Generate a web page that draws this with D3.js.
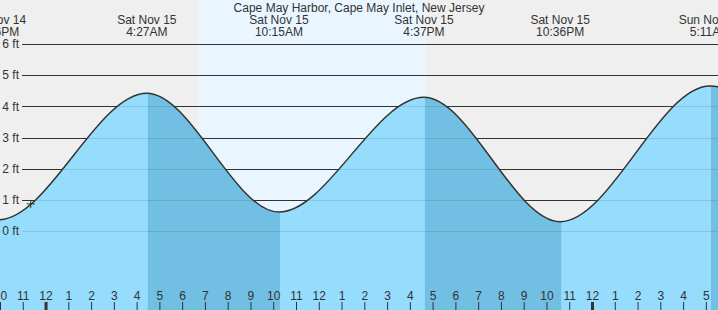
<!DOCTYPE html>
<html>
<head>
<meta charset="utf-8">
<script src="https://cdn.jsdelivr.net/npm/d3@7"></script>
<style>
  body { margin: 0; background: #fff; }
  svg { display: block; font-family: "Liberation Sans", Arial, sans-serif; }
</style>
</head>
<body>
<div id="wrapper"></div>
<script>
// tide extremes (high / low), incl. one off-screen on each side
const tideTimes = ["2025-11-14T15:40", "2025-11-14T21:56", "2025-11-15T04:27", "2025-11-15T10:15",
                   "2025-11-15T16:37", "2025-11-15T22:36", "2025-11-16T05:11", "2025-11-16T11:25"]
const tideHeights = [4.2, 0.36, 4.42, 0.61, 4.29, 0.30, 4.65, 0.75]
const tideDays = ["Fri Nov 14", "Fri Nov 14", "Sat Nov 15", "Sat Nov 15",
                  "Sat Nov 15", "Sat Nov 15", "Sun Nov 16", "Sun Nov 16"]
const tideLabels = ["3:40PM", "9:56PM", "4:27AM", "10:15AM", "4:37PM", "10:36PM", "5:11AM", "11:25AM"]
const daylight = ["2025-11-15T06:42", "2025-11-15T16:42"]
const nowMark = { time: "2025-11-14T23:21", height: 0.87 }
const ftTicks = [0, 1, 2, 3, 4, 5, 6]
const title = "Cape May Harbor, Cape May Inlet, New Jersey"

const parse = d3.timeParse("%Y-%m-%dT%H:%M")
const tides = tideTimes.map((t, i) => ({
  time: parse(t), height: tideHeights[i], day: tideDays[i], label: tideLabels[i]
}))

const dimensions = { width: 718, height: 310 }

const wrapper = d3.select("#wrapper")
  .append("svg")
  .attr("width", dimensions.width)
  .attr("height", dimensions.height)

const xScaler = d3.scaleTime()
  .domain([parse("2025-11-14T22:00"), parse("2025-11-16T05:32")])
  .range([0, dimensions.width])

const yScaler = d3.scaleLinear()
  .domain([0, 6])
  .range([231, 44])

// background + daylight
wrapper.append("rect")
  .attr("width", dimensions.width).attr("height", dimensions.height)
  .attr("fill", "#efefef")
wrapper.append("rect")
  .attr("x", xScaler(parse(daylight[0])))
  .attr("width", xScaler(parse(daylight[1])) - xScaler(parse(daylight[0])))
  .attr("height", dimensions.height)
  .attr("fill", "#eaf6ff")

// grid lines (dark, above water)
const gridLeft = 22
wrapper.append("g").selectAll("line")
  .data(ftTicks).join("line")
  .attr("x1", gridLeft).attr("x2", dimensions.width)
  .attr("y1", d => Math.round(yScaler(d)) + 0.5)
  .attr("y2", d => Math.round(yScaler(d)) + 0.5)
  .attr("stroke", "#333")

// water
const lineGen = d3.line()
  .x(d => xScaler(d.time))
  .y(d => yScaler(d.height))
  .curve(d3.curveMonotoneX)
const areaGen = d3.area()
  .x(d => xScaler(d.time))
  .y0(dimensions.height)
  .y1(d => yScaler(d.height))
  .curve(d3.curveMonotoneX)

wrapper.append("clipPath").attr("id", "water")
  .append("path").attr("d", areaGen(tides))

wrapper.append("path")
  .attr("d", areaGen(tides))
  .attr("fill", "#95dcfd")

// falling tide bands (high -> next low)
const falling = tides.slice(0, -1)
  .map((d, i) => [d, tides[i + 1]])
  .filter(p => p[0].height > p[1].height)
wrapper.append("g").attr("clip-path", "url(#water)")
  .selectAll("rect").data(falling).join("rect")
  .attr("x", p => xScaler(p[0].time) + 1)
  .attr("width", p => xScaler(p[1].time) - xScaler(p[0].time))
  .attr("height", dimensions.height)
  .attr("fill", "#72bfe4")

// faint grid lines under water
wrapper.append("g").attr("clip-path", "url(#water)")
  .selectAll("line").data(ftTicks).join("line")
  .attr("x1", gridLeft).attr("x2", dimensions.width)
  .attr("y1", d => Math.round(yScaler(d)) + 0.5)
  .attr("y2", d => Math.round(yScaler(d)) + 0.5)
  .attr("stroke", "#000")
  .attr("stroke-opacity", 0.1)

// ft labels
wrapper.append("g").selectAll("text")
  .data(ftTicks).join("text")
  .attr("x", gridLeft - 3)
  .attr("y", d => yScaler(d))
  .attr("dy", "0.35em")
  .attr("text-anchor", "end")
  .attr("font-size", "12px")
  .attr("fill", "#333")
  .text(d => `${d} ft`)

// tide curve
wrapper.append("path")
  .attr("d", lineGen(tides))
  .attr("fill", "none")
  .attr("stroke", "#333")
  .attr("stroke-width", 1.5)

// current time marker
const mx = xScaler(parse(nowMark.time)), my = yScaler(nowMark.height)
wrapper.append("path")
  .attr("d", `M${mx - 4},${my}H${mx + 4}M${mx},${my - 4}V${my + 4}`)
  .attr("stroke", "#333")
  .attr("stroke-width", 1)

// header
wrapper.append("text")
  .attr("x", dimensions.width / 2)
  .attr("y", 12)
  .attr("text-anchor", "middle")
  .attr("font-size", "12px")
  .attr("fill", "#333")
  .text(title)

// only label extremes whose time is close enough to be (partly) on screen
const [t0, t1] = xScaler.domain()
const shown = tides.filter(d => d.time >= d3.timeHour.offset(t0, -1) && d.time <= d3.timeHour.offset(t1, 1))
const heads = wrapper.append("g").selectAll("g")
  .data(shown).join("g")
  .attr("transform", d => `translate(${xScaler(d.time)},0)`)
  .attr("font-size", "12px")
  .attr("fill", "#333")
  .attr("text-anchor", "middle")
heads.append("text").attr("y", 24).text(d => d.day)
heads.append("text").attr("y", 36).text(d => d.label)

// hour axis
const hourAxis = d3.axisTop(xScaler)
  .ticks(d3.timeHour.every(1))
  .tickFormat(d3.timeFormat("%-I"))
  .tickSizeInner(8)
  .tickSizeOuter(0)
  .tickPadding(2)
const axisX = wrapper.append("g")
  .attr("transform", `translate(0,${dimensions.height})`)
  .call(hourAxis)
axisX.select(".domain").remove()
axisX.selectAll("text")
  .attr("font-size", "12px")
  .attr("font-family", "Liberation Sans, Arial, sans-serif")
  .attr("fill", "#333")
axisX.selectAll("line").attr("stroke", "#333")
axisX.selectAll(".tick")
  .filter(d => d.getHours() === 0)
  .select("line")
  .attr("stroke-width", 3)
</script>
</body>
</html>
